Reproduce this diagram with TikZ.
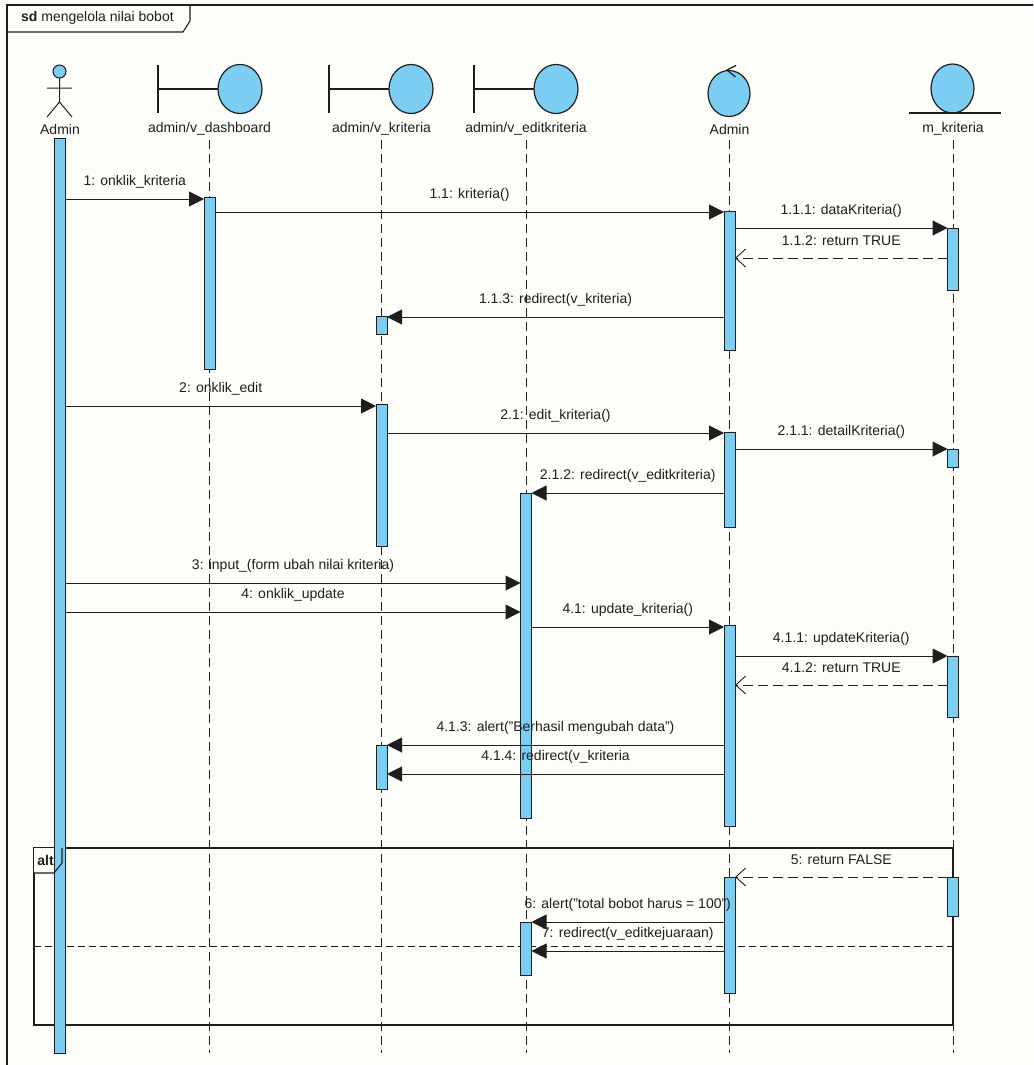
\documentclass[tikz,border=0pt]{standalone}
\usepackage{fontspec}
\setmainfont{Liberation Sans}
\usetikzlibrary{arrows.meta}
\definecolor{actblue}{HTML}{7CCDF2}
\definecolor{bgc}{HTML}{FDFDFA}
\definecolor{ink}{HTML}{1E1E1E}
\tikzset{
 lifeline/.style={draw=ink, line width=0.9pt, dash pattern=on 9pt off 5pt},
 actbar/.style={draw=ink, fill=actblue, line width=1pt, minimum width=11pt, inner sep=0pt, outer sep=0pt, rectangle},
 msg/.style={draw=ink, line width=1pt, -{Triangle[length=15pt,width=15pt]}},
 ret/.style={draw=ink, line width=0.9pt, dash pattern=on 10pt off 5pt, -{Straight Barb[length=10pt,width=18pt,line width=0.9pt]}},
 lbl/.style={font=\fontsize{14}{16}\selectfont, text=ink, inner sep=0pt, midway, yshift=17pt},
 headlbl/.style={font=\fontsize{14}{16}\selectfont, text=ink, inner sep=0pt},
 icon/.style={draw=ink, line width=1.2pt},
 iconfill/.style={draw=ink, fill=actblue, line width=1.2pt},
 framel/.style={draw=ink, line width=1.1pt},
}
\newcommand\actbar[4]{\node[actbar, minimum height={(#4-#3)*1pt}] (#1) at (#2,{(#3+#4)/2}) {};}
\begin{document}
\begin{tikzpicture}[x=1pt,y=-1pt]
\useasboundingbox (0,0) rectangle (1033,1065);
\clip (0,0) rectangle (1033,1065);
\fill[bgc] (0,0) rectangle (1033,1065);
% main frame
\draw[framel] (7,1080) -- (7,5) -- (1045,5);
\draw[framel] (7,32) -- (183,32) -- (190,21) -- (190,5);
\node[headlbl, anchor=west] (sd) at (21,18) {\textbf{sd} mengelola nilai bobot};
% actor
\draw[icon, line width=1pt] (59.5,78) -- (59.5,102) (47,88) -- (72,88) (47,117) -- (59.5,102) -- (72,117);
\draw[iconfill, line width=1pt] (59.5,71.5) circle [radius=6.5];
% boundaries
\draw[icon] (158,65) -- (158,113) (158,89) -- (218,89);
\draw[iconfill] (240,89) ellipse [x radius=22, y radius=24.5];
\draw[icon] (329,65) -- (329,113) (329,89) -- (389,89);
\draw[iconfill] (411,89) ellipse [x radius=22, y radius=24.5];
\draw[icon] (474,65) -- (474,113) (474,89) -- (534,89);
\draw[iconfill] (556,89) ellipse [x radius=22, y radius=24.5];
% control
\draw[iconfill] (729,93.5) ellipse [x radius=21, y radius=23];
\draw[icon] (736,65.5) -- (727,70) -- (735.5,77);
% entity
\draw[iconfill] (952.5,88.5) ellipse [x radius=21.5, y radius=24.5];
\draw[icon] (909,113) -- (1001,113);
% head labels
\node[headlbl] (Lact) at (60,129) {Admin};
\node[headlbl] (Ldash) at (209.5,129) {admin/v\_dashboard};
\node[headlbl] (Lkrit) at (381.5,129) {admin/v\_kriteria};
\node[headlbl] (Ledit) at (526,129) {admin/v\_editkriteria};
\node[headlbl] (Lctrl) at (729.5,129) {Admin};
\node[headlbl] (Lm) at (953,129) {m\_kriteria};
% lifelines
\foreach \n in {Lact,Ldash,Lkrit,Ledit,Lctrl,Lm}
  \draw[lifeline] (\n.south |- 0,140) -- (\n.south |- 0,1053);
% alt frame
\draw[framel] (34,848) rectangle (953,1025);
\draw[draw=ink, line width=1pt, dash pattern=on 7pt off 4pt] (34,946) -- (953,946);
\fill[bgc] (34,848) -- (62,848) -- (62,863) -- (54,873) -- (34,873) -- cycle;
% activation bars
\actbar{A0}{60}{138}{1053}
\actbar{D1}{209.5}{197}{369}
\actbar{K1}{381.5}{316}{334}
\actbar{K2}{381.5}{404}{546}
\actbar{K3}{381.5}{745}{789}
\actbar{E1}{526}{493}{818}
\actbar{E2}{526}{922}{975}
\actbar{C1}{729.5}{211}{350}
\actbar{C2}{729.5}{432}{527}
\actbar{C3}{729.5}{625}{826}
\actbar{C4}{729.5}{877}{993}
\actbar{M1}{953}{228}{290}
\actbar{M2}{953}{449}{467}
\actbar{M3}{953}{656}{717}
\actbar{M4}{953}{877}{916}
% alt label box
\draw[framel] (34,873) -- (54,873) -- (62,863) -- (62,848);
\node[font=\fontsize{14}{16}\selectfont\bfseries, text=ink, inner sep=0pt] (altl) at (45.5,860) {alt};
% messages
\draw[msg] (A0.east |- 0,199) -- node[lbl]{1: onklik\_kriteria} (D1.west |- 0,199);
\draw[msg] (D1.east |- 0,212) -- node[lbl]{1.1: kriteria()} (C1.west |- 0,212);
\draw[msg] (C1.east |- 0,228) -- node[lbl]{1.1.1: dataKriteria()} (M1.west |- 0,228);
\draw[ret] (M1.west |- 0,258) -- node[lbl]{1.1.2: return TRUE} (C1.east |- 0,258);
\draw[msg] (C1.west |- 0,317) -- node[lbl]{1.1.3: redirect(v\_kriteria)} (K1.east |- 0,317);
\draw[msg] (A0.east |- 0,406) -- node[lbl]{2: onklik\_edit} (K2.west |- 0,406);
\draw[msg] (K2.east |- 0,433) -- node[lbl]{2.1: edit\_kriteria()} (C2.west |- 0,433);
\draw[msg] (C2.east |- 0,449) -- node[lbl]{2.1.1: detailKriteria()} (M2.west |- 0,449);
\draw[msg] (C2.west |- 0,493) -- node[lbl]{2.1.2: redirect(v\_editkriteria)} (E1.east |- 0,493);
\draw[msg] (A0.east |- 0,583) -- node[lbl]{3: input\_(form ubah nilai kriteria)} (E1.west |- 0,583);
\draw[msg] (A0.east |- 0,612) -- node[lbl]{4: onklik\_update} (E1.west |- 0,612);
\draw[msg] (E1.east |- 0,627) -- node[lbl]{4.1: update\_kriteria()} (C3.west |- 0,627);
\draw[msg] (C3.east |- 0,656) -- node[lbl]{4.1.1: updateKriteria()} (M3.west |- 0,656);
\draw[ret] (M3.west |- 0,685) -- node[lbl]{4.1.2: return TRUE} (C3.east |- 0,685);
\draw[msg] (C3.west |- 0,745) -- node[lbl]{4.1.3: alert("Berhasil mengubah data")} (K3.east |- 0,745);
\draw[msg] (C3.west |- 0,774) -- node[lbl]{4.1.4: redirect(v\_kriteria} (K3.east |- 0,774);
\draw[ret] (M4.west |- 0,877) -- node[lbl]{5: return FALSE} (C4.east |- 0,877);
\draw[msg] (C4.west |- 0,922) -- node[lbl]{6: alert("total bobot harus = 100")} (E2.east |- 0,922);
\draw[msg] (C4.west |- 0,951) -- node[lbl]{7: redirect(v\_editkejuaraan)} (E2.east |- 0,951);
\end{tikzpicture}
\end{document}
